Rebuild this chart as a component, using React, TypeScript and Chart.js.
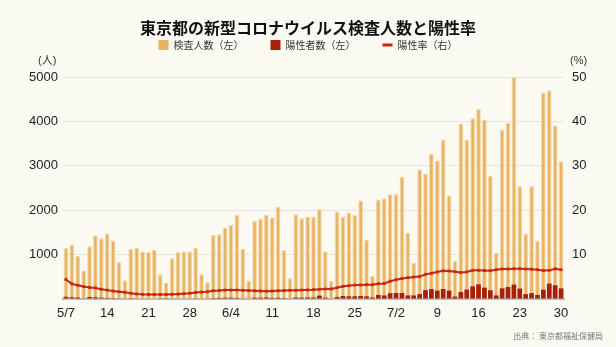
import React, { useEffect, useRef } from 'react';
import { Chart, registerables } from 'chart.js';

Chart.register(...registerables);

const DATES = [
  '5/7','5/8','5/9','5/10','5/11','5/12','5/13','5/14','5/15','5/16','5/17','5/18','5/19','5/20','5/21','5/22','5/23','5/24','5/25','5/26','5/27','5/28','5/29','5/30','5/31',
  '6/1','6/2','6/3','6/4','6/5','6/6','6/7','6/8','6/9','6/10','6/11','6/12','6/13','6/14','6/15','6/16','6/17','6/18','6/19','6/20','6/21','6/22','6/23','6/24','6/25','6/26','6/27','6/28','6/29','6/30',
  '7/1','7/2','7/3','7/4','7/5','7/6','7/7','7/8','7/9','7/10','7/11','7/12','7/13','7/14','7/15','7/16','7/17','7/18','7/19','7/20','7/21','7/22','7/23','7/24','7/25','7/26','7/27','7/28','7/29','7/30',
];

const TICK_LABELS = ['5/7', '14', '21', '28', '6/4', '11', '18', '25', '7/2', '9', '16', '23', '30'];

const TESTS = [
  1150, 1230, 970, 640, 1190, 1430, 1370, 1480, 1320, 840, 420, 1130, 1160, 1070, 1060, 1110, 550, 370, 920, 1060, 1070, 1070, 1160, 560, 380,
  1440, 1460, 1610, 1670, 1900, 1130, 410, 1760, 1810, 1900, 1840, 2080, 1100, 470, 1910, 1820, 1850, 1850, 2020, 1070, 405, 1970, 1860, 1950, 1890, 2220, 1340, 525, 2240, 2270,
  2360, 2360, 2760, 1500, 810, 2920, 2820, 3270, 3120, 3590, 2330, 855, 3950, 3580, 4070, 4280, 4040, 2770, 1040, 3810, 3970, 5000, 2540, 1470, 2540, 1310, 4650, 4700, 3910, 3100,
];

const POSITIVES = [
  50, 40, 35, 15, 45, 40, 30, 25, 20, 15, 10, 20, 15, 12, 10, 12, 5, 4, 10, 12, 12, 12, 15, 10, 8,
  20, 25, 30, 30, 25, 15, 10, 30, 30, 35, 25, 30, 20, 8, 35, 30, 35, 35, 75, 30, 15, 45, 68, 60, 60, 68, 60, 35, 90, 80,
  130, 135, 135, 80, 80, 110, 200, 222, 190, 224, 190, 55, 160, 212, 285, 330, 255, 197, 80, 240, 270, 325, 235, 110, 132, 90, 210, 347, 312, 240,
];

const RATE = [
  4.4, 3.4, 3.1, 2.8, 2.6, 2.5, 2.2, 2.0, 1.8, 1.65, 1.5, 1.3, 1.15, 1.05, 1.0, 1.0, 1.0, 1.0, 1.05, 1.1, 1.2, 1.3, 1.45, 1.55, 1.65,
  1.85, 1.9, 2.0, 2.0, 2.0, 1.95, 1.9, 1.85, 1.8, 1.75, 1.8, 1.85, 1.9, 1.95, 1.95, 2.0, 2.05, 2.1, 2.2, 2.25, 2.25, 2.55, 2.85, 3.0, 3.15, 3.15, 3.2, 3.2, 3.45, 3.5,
  4.0, 4.35, 4.6, 4.8, 4.95, 5.05, 5.55, 5.8, 6.1, 6.35, 6.3, 6.15, 5.95, 6.1, 6.45, 6.45, 6.4, 6.35, 6.6, 6.75, 6.75, 6.8, 6.8, 6.75, 6.7, 6.6, 6.4, 6.45, 6.8, 6.6,
];

const BG = '#faf9f2';
const ORANGE = '#e8b464';
const DARK_RED = '#a81f0b';
const RED = '#c8260f';
const FONT = "'Liberation Sans', 'Noto Sans CJK JP', sans-serif";

const decorPlugin = {
  id: 'decor',
  beforeDraw(chart: any) {
    const ctx = chart.ctx;
    ctx.save();
    ctx.fillStyle = BG;
    ctx.fillRect(0, 0, chart.width, chart.height);
    ctx.restore();
  },
  afterDraw(chart: any) {
    const ctx = chart.ctx;
    ctx.save();
    ctx.fillStyle = '#333';
    ctx.font = "11px 'Liberation Sans', 'Noto Sans CJK JP'";
    ctx.textBaseline = 'middle';
    ctx.textAlign = 'left';
    ctx.fillText('(人)', 38, 61);
    ctx.fillText('(%)', 570, 61);
    ctx.font = "8px 'Noto Sans CJK JP'";
    ctx.fillStyle = '#777';
    ctx.textAlign = 'right';
    ctx.fillText('出典： 東京都福祉保健局', 603, 336);
    ctx.restore();
  },
};

export default function App() {
  const ref = useRef<HTMLCanvasElement | null>(null);

  useEffect(() => {
    document.body.style.margin = '0';
    document.body.style.background = BG;
    if (!ref.current) return;
    Chart.defaults.font.family = FONT;
    const chart = new Chart(ref.current, {
      data: {
        labels: DATES,
        datasets: [
          {
            type: 'bar',
            label: '検査人数（左）',
            data: TESTS,
            backgroundColor: ORANGE,
            borderColor: 'rgba(245, 214, 160, 0.9)',
            borderWidth: 1,
            yAxisID: 'y',
            order: 3,
            grouped: false,
            barPercentage: 0.8,
            categoryPercentage: 1,
          },
          {
            type: 'bar',
            label: '陽性者数（左）',
            data: POSITIVES,
            backgroundColor: DARK_RED,
            borderWidth: 0,
            yAxisID: 'y',
            order: 2,
            grouped: false,
            barPercentage: 0.8,
            categoryPercentage: 1,
          },
          {
            type: 'line',
            label: '陽性率（右）',
            data: RATE,
            borderColor: RED,
            backgroundColor: RED,
            borderWidth: 2,
            pointStyle: 'rect',
            pointRadius: 2,
            pointBorderWidth: 0,
            yAxisID: 'y1',
            order: 1,
          },
        ] as any,
      },
      options: {
        responsive: false,
        animation: false,
        layout: { padding: 0 },
        plugins: {
          title: {
            display: true,
            text: '東京都の新型コロナウイルス検査人数と陽性率',
            color: '#111',
            font: { size: 16, weight: 'bold', family: "'Noto Sans CJK JP'", lineHeight: 1.2 },
            padding: { top: 18, bottom: -24.2 },
          },
          subtitle: {
            display: true,
            text: '',
            weight: 500,
            font: { size: 17, lineHeight: 1 },
            padding: 0,
          } as any,
          legend: {
            display: true,
            position: 'top',
            labels: {
              color: '#333',
              font: { size: 10, family: "'Noto Sans CJK JP'" },
              boxWidth: 10,
              boxHeight: 10,
              padding: 27,
              usePointStyle: true,
              pointStyleWidth: 10,
              generateLabels: (c: any) => {
                const items = (Chart.defaults.plugins.legend.labels as any).generateLabels(c);
                items.sort((a: any, b: any) => a.datasetIndex - b.datasetIndex);
                items.forEach((it: any) => {
                  const ds = c.data.datasets[it.datasetIndex];
                  if (ds.type === 'line') {
                    it.pointStyle = 'line';
                    it.lineWidth = 3;
                    it.strokeStyle = RED;
                    it.fillStyle = RED;
                  } else {
                    it.pointStyle = 'rect';
                    it.lineWidth = 0;
                    it.fillStyle = ds.backgroundColor;
                    it.strokeStyle = 'rgba(0,0,0,0)';
                  }
                });
                return items;
              },
            },
          },
          tooltip: { enabled: false },
        },
        scales: {
          x: {
            offset: true,
            grid: { display: false, drawTicks: false },
            border: { display: true, color: '#bdbdbd', width: 2 },
            ticks: {
              autoSkip: false,
              maxRotation: 0,
              minRotation: 0,
              padding: 7,
              color: '#222',
              font: { size: 13 },
              callback: (_v: any, i: number) => (i % 7 === 0 ? TICK_LABELS[i / 7] : ''),
            },
            afterFit: (s: any) => {
              s.height = 48;
            },
          },
          y: {
            position: 'left',
            min: 0,
            max: 5000,
            border: { display: false },
            grid: {
              drawTicks: false,
              color: (c: any) => (c.tick && c.tick.value === 0 ? 'rgba(0,0,0,0)' : '#e6e4dc'),
              lineWidth: 1,
            },
            ticks: {
              stepSize: 1000,
              padding: 5,
              color: '#222',
              font: { size: 13 },
              callback: (v: any) => (v === 0 ? '' : String(v)),
            },
            afterFit: (s: any) => {
              s.width = 63;
            },
          },
          y1: {
            position: 'right',
            min: 0,
            max: 50,
            border: { display: false },
            grid: { display: false, drawTicks: false },
            ticks: {
              stepSize: 10,
              padding: 8,
              color: '#222',
              font: { size: 13 },
              callback: (v: any) => (v === 0 ? '' : String(v)),
            },
            afterFit: (s: any) => {
              s.width = 52;
            },
          },
        },
      },
      plugins: [decorPlugin],
    });
    return () => chart.destroy();
  }, []);

  return (
    <div style={{ width: 616, height: 347 }}>
      <canvas ref={ref} width={616} height={347} />
    </div>
  );
}
